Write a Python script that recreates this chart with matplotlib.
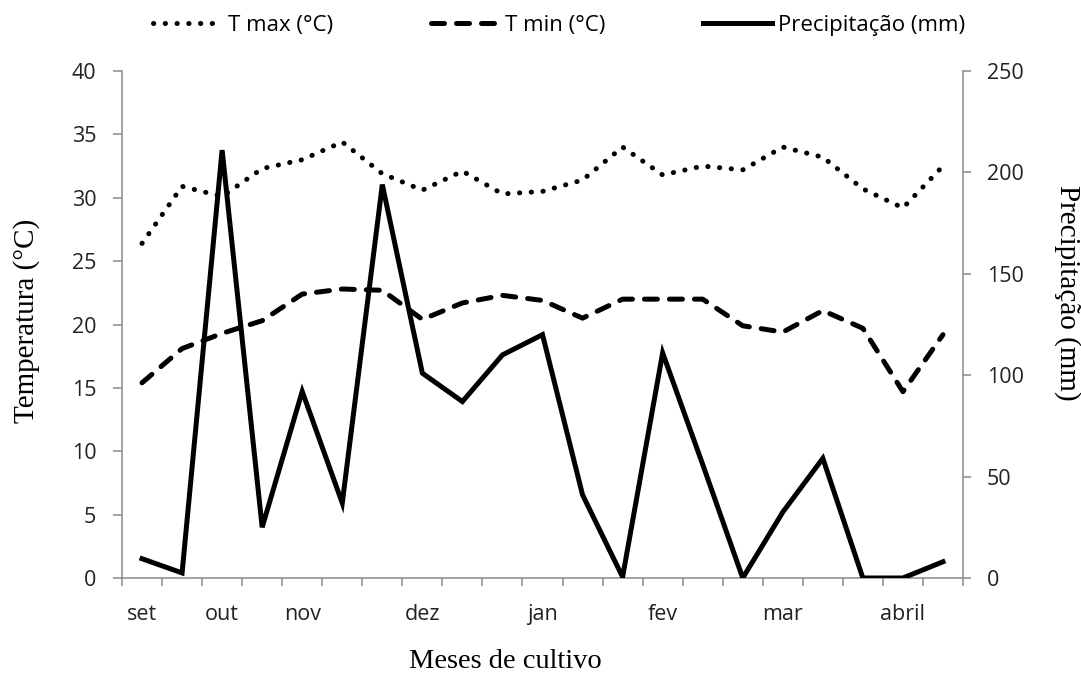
import matplotlib
matplotlib.use("Agg")
import matplotlib.pyplot as plt
import numpy as np

# ---- data ----
month_labels = ['set', '', 'out', '', 'nov', '', '', 'dez', '', '', 'jan', '', '',
                'fev', '', '', 'mar', '', '', 'abril', '']
t_max = [26.4, 30.9, 30.1, 32.3, 33.0, 34.4, 31.9, 30.6, 32.1, 30.3, 30.5,
         31.4, 34.0, 31.8, 32.5, 32.2, 34.0, 33.2, 30.7, 29.2, 32.5]
t_min = [15.4, 18.1, 19.3, 20.3, 22.4, 22.8, 22.7, 20.4, 21.7, 22.3, 21.9,
         20.5, 22.0, 22.0, 22.0, 19.9, 19.4, 21.1, 19.7, 14.7, 19.2]
precip = [9.5, 2.5, 211, 25, 92, 37, 194, 101, 87, 110, 120,
          41, 0.5, 111, 56, 0, 32.5, 59, 0, 0, 8]

legend_labels = ['T max (°C)', 'T min (°C)', 'Precipitação (mm)']
ylabel_left = 'Temperatura (°C)'
ylabel_right = 'Precipitação (mm)'
xlabel = 'Meses de cultivo'

W, H = 1081, 675
fig = plt.figure(figsize=(W / 100, H / 100), dpi=100)
ax = fig.add_axes([122 / W, 1 - 578 / H, (963 - 122) / W, (578 - 71) / H])
ax2 = ax.twinx()

tick_font = 'Open Sans'
serif = 'Liberation Serif'
gray = '#8a8a8a'
lw = 3.6

x = np.arange(len(t_max))
l1, = ax.plot(x, t_max, color='black', lw=lw, linestyle=(0, (0.05, 2.3)),
              dash_capstyle='round', solid_capstyle='round')
l2, = ax.plot(x, t_min, color='black', lw=lw, linestyle=(0, (2.6, 2.4)),
              dash_capstyle='round')
l3, = ax2.plot(x, precip, color='black', lw=lw, solid_joinstyle='miter')

ax.set_xlim(-0.5, len(x) - 0.5)
ax.set_ylim(0, 40)
ax2.set_ylim(0, 250)

ax.set_yticks(np.arange(0, 41, 5))
ax2.set_yticks(np.arange(0, 251, 50))
ax.set_xticks(np.arange(-0.5, len(x), 1))
ax.set_xticklabels([])
ax.set_xticks(x, minor=True)
ax.set_xticklabels(month_labels, minor=True)

for a in (ax, ax2):
    for s in a.spines.values():
        s.set_visible(False)
ax.spines['left'].set_visible(True)
ax.spines['bottom'].set_visible(True)
ax2.spines['right'].set_visible(True)
for s in (ax.spines['left'], ax.spines['bottom'], ax2.spines['right']):
    s.set_color(gray)
    s.set_linewidth(1.1)

fs = 15.5
ax.tick_params(axis='y', which='major', length=6.5, width=1.1, color=gray,
               pad=12, labelsize=fs, labelcolor='#222222')
ax2.tick_params(axis='y', which='major', length=6, width=1.1, color=gray,
                pad=11, labelsize=fs, labelcolor='#222222')
ax.tick_params(axis='x', which='major', length=6, width=1.1, color=gray)
ax.tick_params(axis='x', which='minor', length=0, pad=19, labelsize=fs,
               labelcolor='#222222')
for lab in ax.get_yticklabels() + ax2.get_yticklabels() + ax.get_xticklabels(minor=True):
    lab.set_family(tick_font)

fig.text(27 / W, 1 - 321 / H, ylabel_left, rotation=90, ha='center', va='center',
         family=serif, fontsize=21)
fig.text(1067 / W, 1 - 293 / H, ylabel_right, rotation=270, ha='center', va='center',
         family=serif, fontsize=21)
fig.text(505 / W, 1 - 662 / H, xlabel, ha='center', va='center',
         family=serif, fontsize=20.5)

leg = fig.legend([l1, l2, l3], legend_labels, ncol=3, loc='center',
                 bbox_to_anchor=(559 / W, 1 - 25 / H), frameon=False,
                 prop={'family': tick_font, 'size': 16}, handlelength=3.1,
                 handletextpad=0.25, columnspacing=4.4)

fig.savefig('out.png', dpi=100)
